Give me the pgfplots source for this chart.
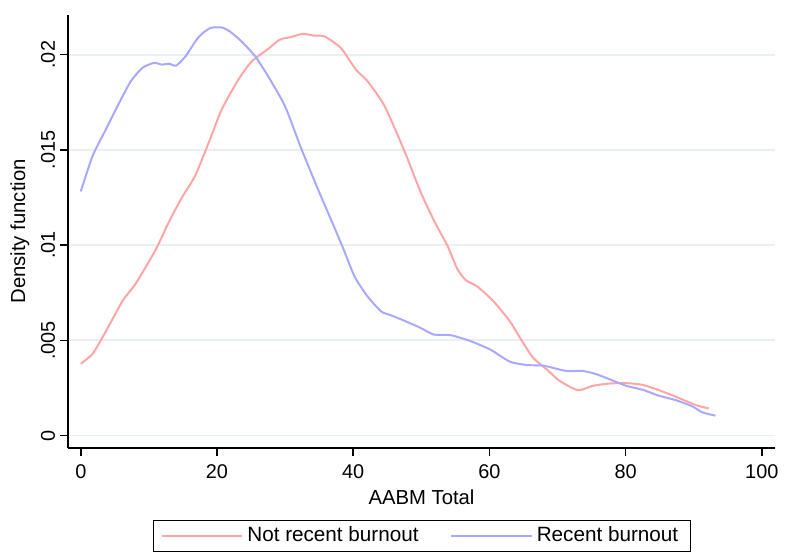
\documentclass[border=0pt]{standalone}
\usepackage{fontspec}
\setmainfont{Liberation Sans}
\usepackage{pgfplots}
\pgfplotsset{compat=1.18}
\definecolor{notrecent}{RGB}{255,165,165}
\definecolor{recent}{RGB}{168,168,255}
\definecolor{gridc}{RGB}{232,240,242}

\begin{document}
\begin{tikzpicture}
\begin{axis}[
    name=main,
    scale only axis,
    width=355.75pt, height=217.85pt,
    xmin=-1.87, xmax=101.94,
    ymin=-0.000647, ymax=0.022093,
    axis lines=left,
    axis line style={-, line width=0.75pt},
    tick align=outside,
    major tick length=4pt,
    tick style={line width=0.75pt, black},
    xtick={0,20,40,60,80,100},
    ytick={0,0.005,0.01,0.015,0.02},
    scaled y ticks=false,
    ymajorgrids,
    grid style={gridc, line width=1pt},
    tick label style={font=\fontsize{10}{12}\selectfont},
    label style={font=\fontsize{10.2}{12}\selectfont},
    /pgf/number format/assume math mode=true,
    xticklabel style={yshift=-1pt},
    yticklabel style={xshift=1pt, rotate=90, anchor=south, /pgf/number format/.cd, fixed, precision=3, skip 0.},
    xlabel={AABM Total},
    xlabel style={yshift=1.5pt},
    ylabel={Density function},
    ylabel style={yshift=-1pt},
    legend columns=2,
    legend style={at={(0.5,-0.166)}, anchor=north, draw=black, line width=0.5pt,
        font=\fontsize{10.4}{12.5}\selectfont, inner xsep=4pt, inner ysep=1.3pt,
        /tikz/every even column/.append style={column sep=14pt}},
    legend cell align=left,
    legend image code/.code={\draw[#1] (0pt,0pt) -- (37.5pt,0pt); \path (0pt,0pt) -- (40.5pt,0pt);},
]
% Not recent burnout
\addplot[notrecent, line width=1pt, smooth, tension=0.4] coordinates {
    (0,0.00377) (1.75,0.0043) (3.7,0.00548) (6.1,0.00705) (8.1,0.008)
    (11.0,0.00976) (12.94,0.01122) (14.9,0.01253) (16.8,0.01365) (18.8,0.0154)
    (20.7,0.01713) (23.15,0.0187) (25.1,0.01965) (27.5,0.0203) (29.2,0.02079)
    (30.9,0.02093) (32.6,0.0211) (34.3,0.021) (35.8,0.02096) (38.2,0.02035)
    (40.4,0.01922) (42.1,0.01861) (44.6,0.01731) (47.5,0.01496) (49.9,0.01279)
    (51.85,0.0113) (53.9,0.00992) (55.25,0.00878) (56.5,0.00817) (58.2,0.00783)
    (60.6,0.00705) (63.0,0.006) (64.5,0.00513) (66.4,0.00409) (68.4,0.00348)
    (70.3,0.00287) (73.0,0.00238) (75.2,0.00261) (77.6,0.00273) (80.1,0.00275)
    (82.5,0.00266) (84.9,0.00238) (87.35,0.00204) (90.3,0.0016) (92.2,0.00142)
};
\addlegendentry{Not recent burnout}
% Recent burnout
\addplot[recent, line width=1pt, smooth, tension=0.4] coordinates {
    (0,0.01282) (1.75,0.0147) (3.7,0.01609) (5.65,0.01748) (7.35,0.01861)
    (9.05,0.01931) (10.75,0.01957) (11.97,0.01948) (12.94,0.01953) (14.0,0.01943)
    (15.38,0.01992) (17.3,0.02093) (19.0,0.0214) (20.7,0.02143) (21.9,0.02122)
    (23.6,0.0207) (25.6,0.01992) (27.5,0.01887) (29.97,0.01731) (32.4,0.01505)
    (34.8,0.01296) (37.3,0.01087) (38.5,0.00986) (40.2,0.00835) (42.1,0.00731)
    (44.1,0.00652) (45.5,0.00632) (47.5,0.00603) (49.9,0.00565) (51.85,0.0053)
    (54.3,0.00527) (57.2,0.00496) (60.1,0.00452) (63.0,0.00388) (65.5,0.0037)
    (67.9,0.00367) (71.3,0.00339) (73.7,0.00339) (75.7,0.00322) (77.6,0.00296)
    (80.1,0.00261) (82.5,0.0024) (84.9,0.00209) (87.35,0.00186) (89.8,0.00153)
    (91.25,0.00122) (93.2,0.00104)
};
\addlegendentry{Recent burnout}
\end{axis}
\path ([shift={(-34.25pt,-50.65pt)}]main.south west) rectangle ([shift={(2.5pt,7.5pt)}]main.north east);
\end{tikzpicture}
\end{document}
